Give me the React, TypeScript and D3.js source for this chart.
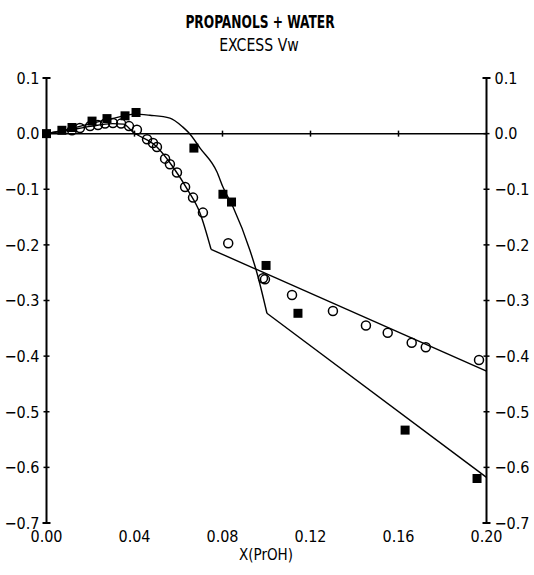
import { useEffect, useRef } from "react";
import * as d3 from "d3";

// tick values
const xTicks = [0, 0.04, 0.08, 0.12, 0.16, 0.2];
const yTicks = [0.1, 0, -0.1, -0.2, -0.3, -0.4, -0.5, -0.6, -0.7];

// open circles
const circleX = [0.0116, 0.0152, 0.0198, 0.0234, 0.0266, 0.0302, 0.0339, 0.0375, 0.0411, 0.0457, 0.0484, 0.0502, 0.0539, 0.0561, 0.0593, 0.063, 0.0666, 0.0711, 0.0826, 0.0984, 0.0993, 0.1116, 0.1302, 0.1452, 0.1551, 0.166, 0.1724, 0.1966];
const circleY = [0.006, 0.01, 0.0135, 0.0153, 0.018, 0.019, 0.018, 0.0135, 0.007, -0.01, -0.017, -0.024, -0.045, -0.055, -0.07, -0.096, -0.115, -0.142, -0.197, -0.26, -0.262, -0.29, -0.319, -0.345, -0.358, -0.376, -0.384, -0.407];

// filled squares
const squareX = [0, 0.007, 0.0116, 0.0207, 0.0275, 0.0357, 0.0407, 0.067, 0.0802, 0.0841, 0.0998, 0.1143, 0.163, 0.1957];
const squareY = [0, 0.006, 0.011, 0.0225, 0.027, 0.032, 0.038, -0.026, -0.109, -0.123, -0.237, -0.323, -0.533, -0.62];

// fitted curve through the circles (smooth part, then straight tail)
const fitAX = [0, 0.01, 0.02, 0.03, 0.035, 0.0393, 0.0502, 0.0575, 0.0643, 0.0698, 0.0748];
const fitAY = [0, 0.006, 0.013, 0.018, 0.017, 0.003, -0.024, -0.06, -0.102, -0.143, -0.208];
const fitATailX = [0.0748, 0.2];
const fitATailY = [-0.208, -0.427];

// fitted curve through the squares
const fitBX = [0, 0.01, 0.02, 0.03, 0.04, 0.047, 0.0561, 0.062, 0.0648, 0.0698, 0.0775, 0.0802, 0.0848, 0.0925, 0.0957, 0.1002];
const fitBY = [0, 0.008, 0.018, 0.027, 0.035, 0.033, 0.028, 0.0117, 0.001, -0.026, -0.069, -0.096, -0.132, -0.21, -0.251, -0.323];
const fitBTailX = [0.1002, 0.2];
const fitBTailY = [-0.323, -0.618];

const FONT = "'DejaVu Sans Condensed', 'Liberation Sans Narrow', sans-serif";

const App = () => {
  const svgRef = useRef<SVGSVGElement>(null);

  useEffect(() => {
    const width = 534;
    const height = 575;
    const left = 46.5;
    const right = 486.5;

    const svg = d3.select(svgRef.current);
    svg.selectAll("*").remove();
    svg.attr("width", width).attr("height", height);

    const x = d3.scaleLinear().domain([0, 0.2]).range([left, right]);
    const y = d3.scaleLinear().domain([0.1, -0.7]).range([78, 523]);

    // title (condensed look)
    svg.append("text")
      .attr("transform", "translate(260,28) scale(0.8,1)")
      .attr("text-anchor", "middle")
      .style("font-family", FONT).style("font-size", "17px").style("font-weight", "bold")
      .text("PROPANOLS + WATER");
    svg.append("text")
      .attr("transform", "translate(259,51) scale(0.92,1)")
      .attr("text-anchor", "middle")
      .style("font-family", FONT).style("font-size", "17px")
      .text("EXCESS Vw");

    // vertical axes on both sides
    [left, right].forEach((ax, i) => {
      const g = svg.append("g").attr("stroke", "#000").attr("stroke-width", 2);
      g.append("line").attr("x1", ax).attr("x2", ax).attr("y1", y(0.1)).attr("y2", y(-0.7));
      g.append("line").attr("x1", ax - 4).attr("x2", ax + 4).attr("y1", y(0.1)).attr("y2", y(0.1));
      g.append("line").attr("x1", ax - 4).attr("x2", ax + 4).attr("y1", y(-0.7)).attr("y2", y(-0.7));
      g.selectAll("line.tick")
        .data(yTicks.slice(1, -1))
        .join("line")
        .attr("class", "tick")
        .attr("x1", ax - 3).attr("x2", ax + 3)
        .attr("y1", d => y(d)).attr("y2", d => y(d))
        .attr("stroke-width", 1.5);

      svg.append("g")
        .selectAll("text")
        .data(yTicks)
        .join("text")
        .attr("x", i === 0 ? ax - 7 : ax + 8)
        .attr("y", d => y(d))
        .attr("dy", "0.36em")
        .attr("text-anchor", i === 0 ? "end" : "start")
        .style("font-family", FONT).style("font-size", "16px")
        .text(d => d3.format(".1f")(d).replace("-", "\u2212"));
    });

    // zero line with x ticks
    svg.append("line")
      .attr("x1", left).attr("x2", right)
      .attr("y1", y(0)).attr("y2", y(0))
      .attr("stroke", "#000").attr("stroke-width", 1.5);
    svg.append("g")
      .selectAll("line")
      .data(xTicks.slice(1, -1))
      .join("line")
      .attr("x1", d => x(d)).attr("x2", d => x(d))
      .attr("y1", y(0) - 3).attr("y2", y(0) + 3)
      .attr("stroke", "#000").attr("stroke-width", 1.5);

    // x tick labels
    svg.append("g")
      .selectAll("text")
      .data(xTicks)
      .join("text")
      .attr("x", d => x(d))
      .attr("y", 542)
      .attr("text-anchor", "middle")
      .style("font-family", FONT).style("font-size", "16px")
      .text(d => d3.format(".2f")(d));

    svg.append("text")
      .attr("x", 266).attr("y", 560)
      .attr("text-anchor", "middle")
      .style("font-family", FONT).style("font-size", "15px")
      .text("X(PrOH)");

    // fitted curves
    const smooth = d3.line<number>()
      .x(d => d[0]).y(d => d[1])
      .curve(d3.curveMonotoneX);
    const pts = (xs: number[], ys: number[]) => xs.map((v, k) => [x(v), y(ys[k])]);
    [[fitAX, fitAY], [fitATailX, fitATailY], [fitBX, fitBY], [fitBTailX, fitBTailY]].forEach(([xs, ys]) => {
      svg.append("path")
        .attr("d", smooth(pts(xs, ys) as any))
        .attr("fill", "none")
        .attr("stroke", "#000")
        .attr("stroke-width", 1.4);
    });

    // open circles
    svg.append("g")
      .selectAll("circle")
      .data(circleX.map((v, k) => [v, circleY[k]]))
      .join("circle")
      .attr("cx", d => x(d[0]))
      .attr("cy", d => y(d[1]))
      .attr("r", 4.5)
      .attr("fill", "none")
      .attr("stroke", "#000")
      .attr("stroke-width", 1.5);

    // filled squares
    svg.append("g")
      .selectAll("rect")
      .data(squareX.map((v, k) => [v, squareY[k]]))
      .join("rect")
      .attr("x", d => x(d[0]) - 4.5)
      .attr("y", d => y(d[1]) - 4.5)
      .attr("width", 9)
      .attr("height", 9)
      .attr("fill", "#000");

    return () => {
      svg.selectAll("*").remove();
    };
  }, []);

  return (
    <svg ref={svgRef} style={{ position: "absolute", left: 0, top: 0, background: "#fff" }}></svg>
  );
};

export default App;
